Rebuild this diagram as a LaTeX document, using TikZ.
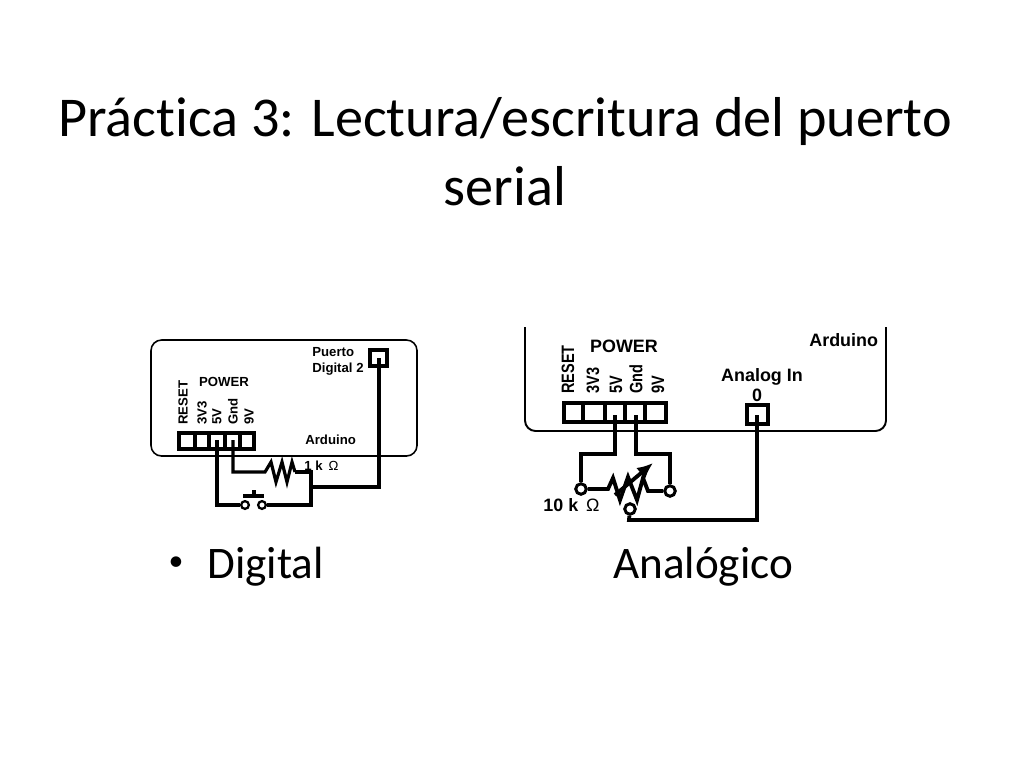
\documentclass[tikz,border=0pt]{standalone}
\usepackage{fontspec}
\usetikzlibrary{arrows.meta}
\setmainfont[Ligatures=NoCommon]{Carlito}
\newfontfamily\circfont{Liberation Sans}
\newcommand{\squeezed}[1]{\scalebox{.81}[1]{#1}}
\tikzset{
	slidetext/.style={inner sep=0pt,font=\fontsize{25.7pt}{30pt}\selectfont},
	titletext/.style={inner sep=0pt,font=\fontsize{32pt}{38pt}\selectfont},
	smalllabel/.style={inner sep=0pt,font=\circfont\bfseries\fontsize{7.5pt}{9pt}\selectfont},
	largelabel/.style={inner sep=0pt,font=\circfont\bfseries\fontsize{10.2pt}{12pt}\selectfont},
	smallpin/.style={smalllabel,rotate=90,anchor=west},
	largepin/.style={largelabel,rotate=90,anchor=west},
	board/.style={line width=.9pt,rounded corners=6pt},
	header/.style={line width=1.8pt},
	wire/.style={line width=1.8pt,line join=miter},
	bigwire/.style={line width=2.2pt,line join=miter},
	smallring/.style={circle,draw,line width=1.3pt,fill=white,inner sep=0pt,minimum size=4.4pt},
	largering/.style={circle,draw,line width=1.7pt,fill=white,inner sep=0pt,minimum size=6pt}
}
\begin{document}
\begin{tikzpicture}[x=.02cm,y=-.02cm]
	\useasboundingbox(0,0)rectangle(1024,768);
	\node[titletext](titleone)at(505,122){Práctica 3: Lectura/escritura del puerto};
	\node[titletext](titletwo)at(505,186){serial};
	\node[slidetext,font=\fontsize{17pt}{20pt}\selectfont](bullet)at(176,564){•};
	\node[slidetext,anchor=base west](digital)at(207,578){Digital};
	\node[slidetext,anchor=base west](analogico)at(613,578){Analógico};

	\draw[board](151,340)rectangle(417,456);
	\draw[header](179,433)rectangle(254,449)
		(195,433)--(195,449) (209,433)--(209,449) (225,433)--(225,449) (240,433)--(240,449);
	\draw[header](370,350)rectangle(387,366);
	\node[smalllabel](powera)at(224,382){POWER};
	\node[smallpin](reseta)at(183,425){RESET};
	\node[smallpin](vthreea)at(202,425){3V3};
	\node[smallpin](vfivea)at(217,425){5V};
	\node[smallpin](gnda)at(233,425){Gnd};
	\node[smallpin](vninea)at(249,425){9V};
	\node[smalllabel,anchor=west](arduinoa)at(305,440){Arduino};
	\node[smalllabel,anchor=west](puerto)at(312,352){Puerto};
	\node[smalllabel,anchor=west](digitaltwo)at(312,369){Digital 2};
	\node[smalllabel,anchor=west](kilo)at(304,466){1 k {\mdseries$\,$Ω}};
	\node[smallring](ringa)at(245,505){};
	\node[smallring](ringb)at(262,505){};
	\coordinate(pina)at(217,440);
	\coordinate(pinb)at(233,440);
	\coordinate(pinc)at(379,358);
	\coordinate(reslefta)at(265,472);
	\coordinate(resrighta)at(295,472);
	\coordinate(joina)at(311,472);
	\coordinate(joinb)at(311,487);
	\coordinate(joinc)at(311,505);
	\coordinate(bartop)at(254,490);
	\coordinate(barmid)at(254,496);
	\draw[wire](pina)|-(ringa);
	\draw[wire](ringb)--(joinc)--(joina)--(resrighta);
	\draw[wire](pinb)|-(reslefta)--(271,462)--(276,482)--(282,462)--(287,482)--(292,462)--(resrighta);
	\draw[wire](pinc)|-(joinb);
	\draw[wire](243,496)--(264,496) (bartop)--(barmid);

	\draw[board,line width=1.1pt](525,327)--(525,431)--(886,431)--(886,327);
	\draw[header,line width=2.2pt](564,403)rectangle(666,422)
		(583,403)--(583,422) (605,403)--(605,422) (625,403)--(625,422) (645,403)--(645,422);
	\draw[header,line width=2.2pt](747,405)rectangle(768,424);
	\node[largelabel](powerb)at(624,346){POWER};
	\node[largepin](resetb)at(568,394){\squeezed{RESET}};
	\node[largepin](vthreeb)at(593,394){\squeezed{3V3}};
	\node[largepin](vfiveb)at(616,394){\squeezed{5V}};
	\node[largepin](gndb)at(636,394){\squeezed{Gnd}};
	\node[largepin](vnineb)at(658,394){\squeezed{9V}};
	\node[largelabel,anchor=west](arduinob)at(809,340){Arduino};
	\node[largelabel](analogin)at(762,377){Analog In};
	\node[largelabel](zero)at(757,395){0};
	\node[largelabel,anchor=west](tenk)at(543,505){10 k {\mdseries$\,$Ω}};
	\coordinate(pind)at(615,415);
	\coordinate(pine)at(636,415);
	\coordinate(pinf)at(757,415);
	\coordinate(kneea)at(615,454);
	\coordinate(kneeb)at(636,454);
	\coordinate(resleftb)at(608,489);
	\coordinate(resrightb)at(648,491);
	\coordinate(arrowfrom)at(615,495);
	\coordinate(arrowto)at(653,463);
	\coordinate(cornerb)at(629,520);
	\node[largering](ringc)at(581,489){};
	\node[largering](ringd)at(670,491){};
	\node[largering](ringe)at(630,509){};
	\draw[bigwire](pind)--(kneea)-|(ringc);
	\draw[bigwire](pine)--(kneeb)-|(ringd);
	\draw[bigwire](pinf)|-(cornerb)--(ringe);
	\draw[bigwire](ringc)--(resleftb)--(613,478)--(620,500)--(628,477)--(637,500)--(643,478)--(resrightb)--(ringd);
	\draw[bigwire,-{Latex[length=9pt,width=8pt]}](arrowfrom)--(arrowto);
\end{tikzpicture}
\end{document}
